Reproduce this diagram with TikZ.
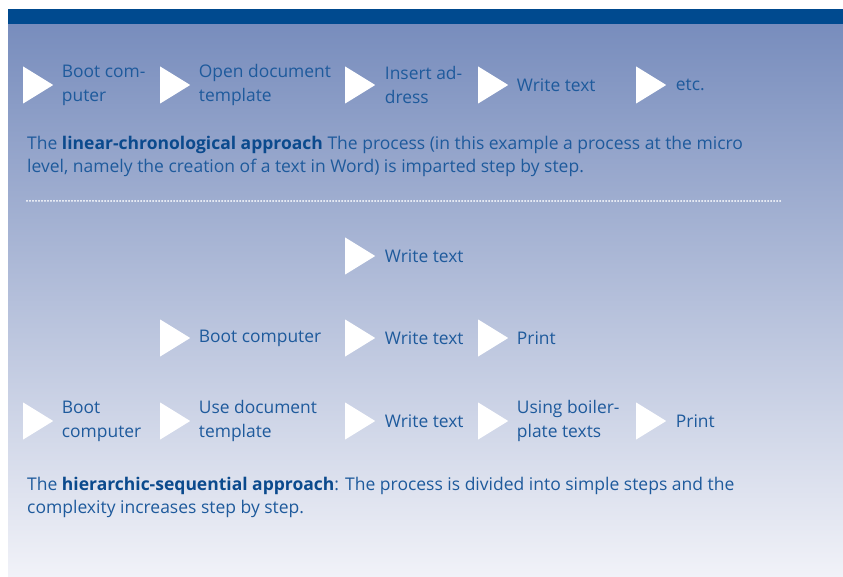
\documentclass[tikz,border=0pt]{standalone}
\usepackage{fontspec}
\setmainfont{Open Sans}
\usetikzlibrary{positioning,shapes.geometric}
\definecolor{bandblue}{HTML}{004A8F}
\definecolor{textblue}{HTML}{1E5A9C}
\definecolor{boldblue}{HTML}{0B4A8D}
\definecolor{shadetop}{HTML}{788DBD}
\definecolor{shademid}{HTML}{A6B4D6}
\definecolor{shadebot}{HTML}{F1F2F8}

\begin{document}
\begin{tikzpicture}[x=1pt, y=-1pt,
	marker/.style={isosceles triangle, isosceles triangle stretches, fill=white, draw=none,
		minimum height=30pt, minimum width=37pt, inner sep=0pt, anchor=west},
	steptext/.style={align=left, inner sep=0pt, text=textblue, font=\fontsize{17.4}{24}\selectfont},
	bodytext/.style={align=left, inner sep=0pt, anchor=west, text=textblue, font=\fontsize{17.5}{23}\selectfont}]
	\useasboundingbox (0,0) rectangle (843,577);
	
	% Background
	\shade[top color=shadetop, middle color=shademid, bottom color=shadebot] (8,24) rectangle (843,577);
	\fill[bandblue] (8,9) rectangle (843,24);
	
	% Linear-chronological row
	\node[marker] (t11) at (23,85) {};
	\node[marker] (t12) at (160,85) {};
	\node[marker] (t13) at (345,85) {};
	\node[marker] (t14) at (478,85) {};
	\node[marker] (t15) at (636,85) {};
	\node[steptext, right=8pt of t11] (l11) {Boot com-\\puter};
	\node[steptext, right=8pt of t12] (l12) {Open document\\template};
	\node[steptext, right=9pt of t13] (l13) {Insert ad-\\dress};
	\node[steptext, right=8pt of t14] (l14) {Write text};
	\node[steptext, right=9pt of t15] (l15) {etc.};
	
	\node[bodytext] (p1) at (27,156.5) {The \textbf{\color{boldblue}linear-chronological approach} The process (in this example a process at the micro\\level, namely the creation of a text in Word) is imparted step by step.};
	
	% Separator
	\draw[white, line width=2pt, line cap=round, dash pattern=on 0pt off 3pt] (27,201) -- (780,201);
	
	% Hierarchic-sequential levels
	\node[marker] (t21) at (345,256) {};
	\node[steptext, right=9pt of t21] (l21) {Write text};
	
	\node[marker] (t31) at (160,338) {};
	\node[marker] (t32) at (345,338) {};
	\node[marker] (t33) at (478,338) {};
	\node[steptext, right=8pt of t31] (l31) {Boot computer};
	\node[steptext, right=9pt of t32] (l32) {Write text};
	\node[steptext, right=8pt of t33] (l33) {Print};
	
	\node[marker] (t41) at (23,421) {};
	\node[marker] (t42) at (160,421) {};
	\node[marker] (t43) at (345,421) {};
	\node[marker] (t44) at (478,421) {};
	\node[marker] (t45) at (636,421) {};
	\node[steptext, right=8pt of t41] (l41) {Boot\\computer};
	\node[steptext, right=8pt of t42] (l42) {Use document\\template};
	\node[steptext, right=9pt of t43] (l43) {Write text};
	\node[steptext, right=8pt of t44] (l44) {Using boiler-\\plate texts};
	\node[steptext, right=9pt of t45] (l45) {Print};
	
	\node[bodytext] (p2) at (27,497.5) {The \textbf{\color{boldblue}hierarchic-sequential approach}: The process is divided into simple steps and the\\complexity increases step by step.};
\end{tikzpicture}
\end{document}
